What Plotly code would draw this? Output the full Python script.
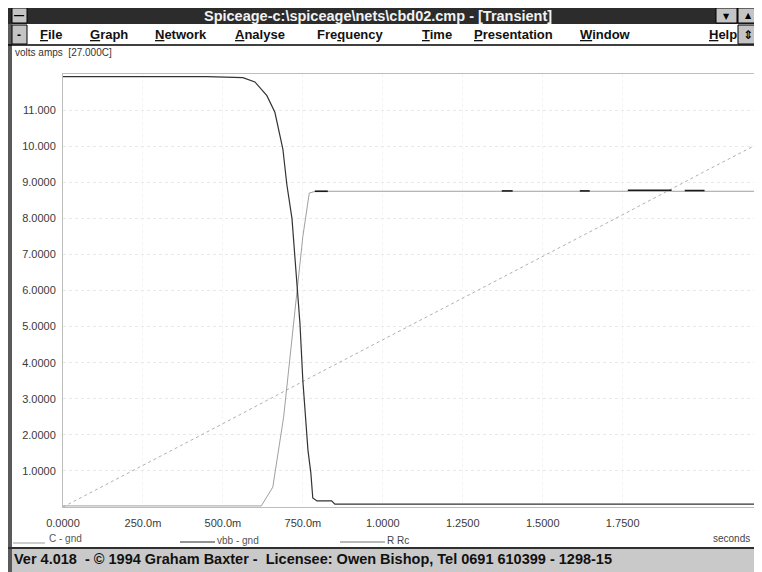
import plotly.graph_objects as go

# ---- data ----
c_gnd_t = [0.0, 0.25, 0.5, 0.75, 1.0, 1.25, 1.5, 1.75, 2.0, 2.17]
c_gnd_v = [0.0, 1.15, 2.31, 3.48, 4.63, 5.80, 6.95, 8.10, 9.27, 10.05]

vbb_t = [0.0, 0.45, 0.5625, 0.60, 0.6375, 0.6625, 0.6875, 0.70, 0.716, 0.725, 0.734,
         0.741, 0.75, 0.766, 0.775, 0.781, 0.794, 0.84, 0.85, 2.17]
vbb_v = [11.93, 11.93, 11.90, 11.78, 11.40, 10.94, 9.92, 8.93, 7.99, 7.00, 5.90,
         5.07, 3.50, 1.57, 0.94, 0.25, 0.17, 0.17, 0.08, 0.08]

rrc_t = [0.0, 0.62, 0.656, 0.69, 0.72, 0.75, 0.77, 0.79, 2.17]
rrc_v = [0.03, 0.03, 0.55, 2.50, 5.00, 7.50, 8.70, 8.75, 8.75]

# darker spots where the R Rc trace was redrawn
dark_t = [0.7875, 0.828, None, 1.372, 1.406, None, 1.616, 1.647, None,
          1.766, 1.903, None, 1.944, 2.006]
dark_v = [8.75, 8.75, None, 8.76, 8.76, None, 8.76, 8.76, None,
          8.78, 8.78, None, 8.77, 8.77]

x_ticks = [0.0, 0.25, 0.5, 0.75, 1.0, 1.25, 1.5, 1.75]
x_labels = ["0.0000", "250.0m", "500.0m", "750.0m", "1.0000", "1.2500", "1.5000", "1.7500"]
y_ticks = [1, 2, 3, 4, 5, 6, 7, 8, 9, 10, 11]
y_labels = ["1.0000", "2.0000", "3.0000", "4.0000", "5.0000", "6.0000",
            "7.0000", "8.0000", "9.0000", "10.000", "11.000"]

menu_items = ["<u>F</u>ile", "<u>G</u>raph", "<u>N</u>etwork", "<u>A</u>nalyse",
              "Fre<u>q</u>uency", "<u>T</u>ime", "<u>P</u>resentation", "<u>W</u>indow", "<u>H</u>elp"]
menu_x = [38, 88, 153, 233, 315, 420, 472, 578, 707]

# page has an 8px body margin, so work in screen pixels and shift
OFF = 8
W, H = 754, 564


def px(x):
    return (x - OFF) / W


def py(y):
    return 1 - (y - OFF) / H


fig = go.Figure()
fig.add_trace(go.Scatter(x=c_gnd_t, y=c_gnd_v, mode="lines",
                         line=dict(color="#b0b0b0", width=1, dash="dot")))
fig.add_trace(go.Scatter(x=rrc_t, y=rrc_v, mode="lines",
                         line=dict(color="#a0a0a0", width=1)))
fig.add_trace(go.Scatter(x=vbb_t, y=vbb_v, mode="lines",
                         line=dict(color="#333333", width=1.2)))
fig.add_trace(go.Scatter(x=dark_t, y=dark_v, mode="lines",
                         line=dict(color="#1a1a1a", width=1.6)))

shapes = []


def rect(x0, y0, x1, y1, fill, line="rgba(0,0,0,0)", lw=0):
    shapes.append(dict(type="rect", xref="paper", yref="paper", x0=px(x0), x1=px(x1),
                       y0=py(y1), y1=py(y0), fillcolor=fill, line=dict(color=line, width=lw),
                       layer="above"))


def hline(x0, x1, y, color, lw=1):
    shapes.append(dict(type="line", xref="paper", yref="paper", x0=px(x0), x1=px(x1),
                       y0=py(y), y1=py(y), line=dict(color=color, width=lw), layer="above"))


# window chrome
rect(8, 8, 12, 572, "#5a5a5a")
rect(758, 0, 765, 572, "#5a5a5a")
rect(8, 8, 758, 24, "#2c2c2c")
rect(12, 8, 27, 23, "#c4c4c4", "#000", 1)
rect(716, 8, 737, 23, "#c4c4c4", "#000", 1)
rect(738, 8, 758, 23, "#c4c4c4", "#000", 1)
rect(12, 24, 758, 45, "#ffffff")
hline(8, 758, 45, "#000", 1.5)
rect(12, 25, 27, 44, "#c4c4c4", "#000", 1)
rect(738, 25, 758, 44, "#c4c4c4", "#000", 1)
rect(12, 548, 758, 575, "#c9c9c9")
hline(8, 758, 548, "#303030", 2)

# legend samples
hline(13, 45, 543, "#9a9a9a", 1)
hline(180, 215, 542, "#262626", 1)
hline(340, 385, 542, "#707070", 1)

ann = []


def text(x, y, s, size=11, color="#3a3a3a", bold=False, anchor="left", family="Liberation Sans"):
    if bold:
        s = "<b>" + s + "</b>"
    ann.append(dict(xref="paper", yref="paper", x=px(x), y=py(y), text=s, showarrow=False,
                    xanchor=anchor, yanchor="middle", font=dict(size=size, color=color, family=family)))


text(378, 16, "Spiceage-c:\\spiceage\\nets\\cbd02.cmp - [Transient]", 14.5, "#f2f2f2", True, "center")
text(19, 15, "—", 10, "#000", True, "center")
text(726, 16, "▼", 8, "#000", False, "center", "DejaVu Sans")
text(748, 15, "▲", 8, "#000", False, "center", "DejaVu Sans")
text(19, 35, "-", 12, "#000", True, "center")
text(748, 35, "⇕", 12, "#000", True, "center", "DejaVu Sans")
for s, mx in zip(menu_items, menu_x):
    text(mx, 35, s, 13, "#111", True)

text(13, 52, "volts amps  [27.000C]", 10, "#333")
text(47, 538, "C - gnd", 10, "#555")
text(215, 540, "vbb - gnd", 10, "#555")
text(385, 540, "R Rc", 10, "#444")
text(752, 538, "seconds", 10, "#444", anchor="right")
text(12, 559, "Ver 4.018  - © 1994 Graham Baxter -  Licensee: Owen Bishop, Tel 0691 610399 - 1298-15",
     14.5, "#111", True)

fig.update_layout(
    width=W, height=H,
    margin=dict(l=0, r=0, t=0, b=0, autoexpand=False),
    paper_bgcolor="#ffffff",
    plot_bgcolor="#ffffff",
    showlegend=False,
    shapes=shapes,
    annotations=ann,
    xaxis=dict(domain=[px(63), px(757)], range=[0, 2.17], tickvals=x_ticks, ticktext=x_labels,
               showgrid=True, gridcolor="#f3f3f3", griddash="dot", gridwidth=1, automargin=False,
               zeroline=False, showline=True, linecolor="#bdbdbd", linewidth=1, mirror=True,
               ticks="outside", ticklen=6, tickcolor="rgba(0,0,0,0)",
               tickfont=dict(size=11, color="#3a3a3a", family="Liberation Sans")),
    yaxis=dict(domain=[py(507), py(74)], range=[0, 12], tickvals=y_ticks, ticktext=y_labels,
               showgrid=True, gridcolor="#e9e9e9", griddash="dot", gridwidth=1, automargin=False,
               zeroline=False, showline=True, linecolor="#bdbdbd", linewidth=1, mirror=True,
               ticks="outside", ticklen=4, tickcolor="rgba(0,0,0,0)",
               tickfont=dict(size=11, color="#3a3a3a", family="Liberation Sans")),
)

fig.write_html("out.html")
